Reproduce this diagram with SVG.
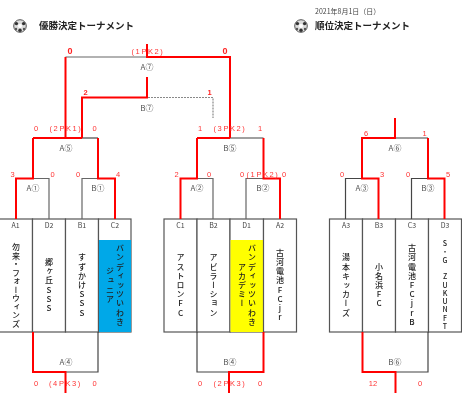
<svg xmlns="http://www.w3.org/2000/svg" width="471" height="408" viewBox="0 0 471 408">
<style>
text{font-family:"Noto Sans CJK JP","Liberation Sans",sans-serif;fill:#333}
.t{font-size:9.5px;font-weight:700;fill:#222}
.l{font-size:7px;text-anchor:middle;fill:#444}
.m{font-size:8px;text-anchor:middle;fill:#555}
.s{font-size:7.5px;text-anchor:middle;fill:#f33;font-family:"Liberation Sans",sans-serif}
.p{letter-spacing:1.6px}
.sb{font-size:9px;font-weight:700;text-anchor:middle;fill:#f22;font-family:"Liberation Sans",sans-serif}
.b2{font-size:7.5px}
.v{font-size:8px;font-weight:500;letter-spacing:1.2px;writing-mode:vertical-rl;text-orientation:upright;text-anchor:middle;fill:#222}
.g{fill:none;stroke:#666;stroke-width:1.2}
.c{fill:none;stroke:#444;stroke-width:1.2}
.r{fill:none;stroke:#f00;stroke-width:2}
.d{fill:none;stroke:#888;stroke-width:1.200;stroke-dasharray:2 1}
.box{fill:#fff;stroke:#555;stroke-width:1.200}
</style>
<defs>
<filter id="soft" x="0" y="0" width="1" height="1"><feGaussianBlur stdDeviation="0.3"/></filter>
<g id="ball"><circle r="6.3" fill="#ddd" stroke="#555" stroke-width="1"/><circle r="2" fill="#fff"/><circle cx="-3.6" cy="-2.4" r="1.7" fill="#333"/><circle cx="3.6" cy="-2.4" r="1.7" fill="#333"/><circle cx="0" cy="4.2" r="1.7" fill="#333"/><circle cx="-4" cy="3" r="1.2" fill="#555"/><circle cx="4" cy="3" r="1.2" fill="#555"/></g>
</defs>
<rect width="471" height="408" fill="#fff"/>
<g filter="url(#soft)">
<g id="header">
<use href="#ball" x="20" y="26"/>
<text class="t" x="39" y="29">優勝決定トーナメント</text>
<use href="#ball" x="301" y="26"/>
<text class="t" x="315" y="29">順位決定トーナメント</text>
<text x="315" y="14" style="font-size:7px;fill:#444">2021年8月1日（日）</text>
</g>
<g id="A1"><rect class="box" x="-1" y="219" width="33.500" height="113"/><text class="l" x="15.500" y="228">A1</text><text class="v" x="16" y="285.500" style="letter-spacing:.5px">勿来・フォーウィンズ</text></g>
<g id="D2"><rect class="box" x="32.500" y="219" width="33" height="113"/><text class="l" x="49" y="228">D2</text><text class="v" x="49" y="285.500">郷ヶ丘SSS</text></g>
<g id="B1"><rect class="box" x="65.500" y="219" width="33" height="113"/><text class="l" x="82" y="228">B1</text><text class="v" x="82" y="285.500">すずかけSSS</text></g>
<g id="C2"><rect class="box" x="98.500" y="219" width="32.500" height="113"/><rect x="99" y="240" width="32" height="92" fill="#00a8e8"/><text class="l" x="115" y="228">C2</text><text class="v" x="120" y="285.500">バンディッツいわき</text><text class="v" x="110" y="285.500">ジュニア</text></g>
<g id="C1"><rect class="box" x="164" y="219" width="33" height="113"/><text class="l" x="180.500" y="228">C1</text><text class="v" x="180.500" y="285.500">アストロンFC</text></g>
<g id="B2"><rect class="box" x="197" y="219" width="33" height="113"/><text class="l" x="213.500" y="228">B2</text><text class="v" x="213.500" y="285.500">アビラーション</text></g>
<g id="D1"><rect class="box" x="230" y="219" width="33.500" height="113"/><rect x="230.500" y="240" width="33" height="92" fill="#ff0"/><text class="l" x="246.500" y="228">D1</text><text class="v" x="252" y="285.500">バンディッツいわき</text><text class="v" x="242" y="285.500">アカデミー</text></g>
<g id="A2"><rect class="box" x="263.500" y="219" width="33" height="113"/><text class="l" x="280" y="228">A2</text><text class="v" x="280" y="285.500">古河電池FCjr</text></g>
<g id="A3"><rect class="box" x="329.500" y="219" width="33" height="113"/><text class="l" x="346" y="228">A3</text><text class="v" x="346" y="285.500">湯本キッカーズ</text></g>
<g id="B3"><rect class="box" x="362.500" y="219" width="33" height="113"/><text class="l" x="379" y="228">B3</text><text class="v" x="379" y="285.500">小名浜FC</text></g>
<g id="C3"><rect class="box" x="395.500" y="219" width="33" height="113"/><text class="l" x="412" y="228">C3</text><text class="v" x="412" y="285.500">古河電池FCjrB</text></g>
<g id="D3"><rect class="box" x="428.500" y="219" width="33" height="113"/><text class="l" x="445" y="228">D3</text><text class="v" x="445" y="285.500" style="font-size:7px;letter-spacing:1.300px">S・G ZUKUNFT</text></g>
<g id="connectors">
<path class="g" d="M65.500 57H147M33 178.500H49V219M82 219V178.500H98"/>
<path class="c" d="M82 138H98"/>
<path class="g" d="M197 178.500H213V219M246 219V178.500H263.500"/>
<path class="c" d="M230 138H263.500"/>
<path class="d" d="M148 97.500H213V118"/>
<path class="c" d="M395 138H428M362 178.500H345.500V219M428 178.500H411.500V219"/>
<path class="c" d="M65.500 372H98V332M197 332V372H229M395.500 372H428V332"/>
<path class="r" d="M147 44V57H230V138M65.500 57V138M33 138H82M98 138V178.500H115V219M33 138V178.500H16V219M147 77V97.500H82V138"/>
<path class="r" d="M197 138H230M197 138V178.500H180.500V219M263.500 138V178.500H280V219"/>
<path class="r" d="M395 118V138H362V178.500H378.500V219M428 138V178.500H444.500V219"/>
<path class="r" d="M33 332V372H65.500V393M263.500 332V372H229V393M362.500 332V372H395.500V393"/>
</g>
<g id="labels">
<text class="m" x="147" y="70">A⑦</text><text class="m" x="147" y="111">B⑦</text><text class="m" x="66" y="151">A⑤</text><text class="m" x="230" y="151">B⑤</text><text class="m" x="395" y="151">A⑥</text>
<text class="m" x="33" y="191">A①</text><text class="m" x="98" y="191">B①</text><text class="m" x="197" y="191">A②</text><text class="m" x="263" y="191">B②</text><text class="m" x="362" y="191">A③</text><text class="m" x="428" y="191">B③</text>
<text class="m" x="66" y="365">A④</text><text class="m" x="230" y="365">B④</text><text class="m" x="395" y="365">B⑥</text>
</g>
<g id="scores">
<text class="sb" x="70" y="54">0</text><text class="sb" x="225" y="54">0</text><text class="s p" x="148" y="53.500">(1PK2)</text>
<text class="sb b2" x="85.500" y="95">2</text><text class="sb b2" x="209.500" y="95">1</text>
<text class="s" x="36" y="131">0</text><text class="s p" x="66" y="131">(2PK1)</text><text class="s" x="94.500" y="131">0</text>
<text class="s" x="200" y="131">1</text><text class="s p" x="230" y="131">(3PK2)</text><text class="s" x="260" y="131">1</text>
<text class="s" x="366" y="135.500">6</text><text class="s" x="424.500" y="136">1</text>
<text class="s" x="12.500" y="176.500">3</text><text class="s" x="52.500" y="176.500">0</text><text class="s" x="78" y="176.500">0</text><text class="s" x="118" y="176.500">4</text>
<text class="s" x="176.500" y="176.500">2</text><text class="s" x="209" y="176.500">0</text><text class="s" x="242" y="176.500">0</text><text class="s p" x="263" y="176.500">(1PK2)</text><text class="s" x="284" y="176.500">0</text>
<text class="s" x="342" y="176.500">0</text><text class="s" x="382" y="176.500">3</text><text class="s" x="408" y="176.500">0</text><text class="s" x="448" y="176.500">5</text>
<text class="s" x="36" y="386">0</text><text class="s p" x="65.500" y="386">(4PK3)</text><text class="s" x="94.500" y="386">0</text>
<text class="s" x="200" y="386">0</text><text class="s p" x="230" y="386">(2PK3)</text><text class="s" x="260" y="386">0</text>
<text class="s" x="373" y="386">12</text><text class="s" x="420" y="386">0</text>
</g>
</g>
</svg>
